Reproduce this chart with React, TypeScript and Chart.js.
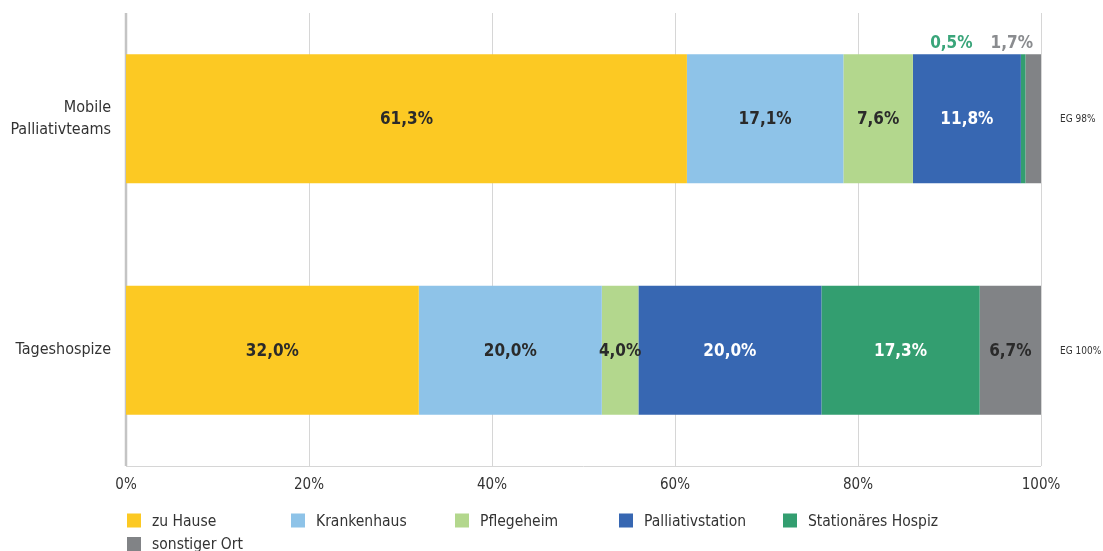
import React, { useEffect, useRef } from "react";
import { Chart, registerables } from "chart.js";
Chart.register(...registerables);

const categories: (string | string[])[] = [["Mobile", "Palliativteams"], "Tageshospize"];
const seriesNames = ["zu Hause", "Krankenhaus", "Pflegeheim", "Palliativstation", "Stationäres Hospiz", "sonstiger Ort"];
const zuHause = [61.3, 32.0];
const krankenhaus = [17.1, 20.0];
const pflegeheim = [7.6, 4.0];
const palliativstation = [11.8, 20.0];
const stationaeresHospiz = [0.5, 17.3];
const sonstigerOrt = [1.7, 6.7];
const egLabels = ["EG 98%", "EG 100%"];
const xTickValues = [0, 20, 40, 60, 80, 100];

const seriesValues = [zuHause, krankenhaus, pflegeheim, palliativstation, stationaeresHospiz, sonstigerOrt];
const colors = ["#fcc923", "#8ec3e8", "#b3d78d", "#3767b2", "#339e70", "#818386"];
const textColors = ["#2a2a2a", "#2a2a2a", "#2a2a2a", "#ffffff", "#ffffff", "#2a2a2a"];
const smallLabelColors = ["#e0aa00", "#6aaee0", "#8fbf5f", "#3767b2", "#3aa57a", "#8a8c8f"];

const FONT = "'DejaVu Sans Condensed', 'Liberation Sans Narrow', 'DejaVu Sans', sans-serif";
const fmt = (v: number) => v.toFixed(1).replace(".", ",") + "%";

const customPlugin = {
  id: "customDraw",
  beforeDatasetsDraw(chart: any) {
    const { ctx, chartArea } = chart;
    const x = chart.scales.x;
    const top = chartArea.top + 10;
    const bottom = chartArea.bottom;
    ctx.save();
    ctx.strokeStyle = "#d6d6d6";
    ctx.lineWidth = 1;
    xTickValues.forEach((v) => {
      const px = Math.round(x.getPixelForValue(v)) + 0.5;
      ctx.beginPath();
      ctx.moveTo(px, top);
      ctx.lineTo(px, bottom);
      ctx.stroke();
    });
    ctx.beginPath();
    ctx.moveTo(chartArea.left, Math.round(bottom) + 0.5);
    ctx.lineTo(chartArea.right, Math.round(bottom) + 0.5);
    ctx.stroke();
    ctx.strokeStyle = "#c4c4c4";
    ctx.lineWidth = 2.5;
    ctx.beginPath();
    ctx.moveTo(chartArea.left, top);
    ctx.lineTo(chartArea.left, bottom);
    ctx.stroke();
    ctx.restore();
  },
  afterDatasetsDraw(chart: any) {
    const { ctx, chartArea } = chart;
    const x = chart.scales.x;
    ctx.save();
    ctx.textBaseline = "middle";
    ctx.font = `bold 17px ${FONT}`;
    const small: { ds: number; bar: any }[][] = categories.map(() => []);
    chart.data.datasets.forEach((ds: any, i: number) => {
      const meta = chart.getDatasetMeta(i);
      meta.data.forEach((bar: any, j: number) => {
        const v = ds.data[j];
        if (v < 2) {
          small[j].push({ ds: i, bar });
          return;
        }
        ctx.textAlign = "center";
        ctx.fillStyle = textColors[i];
        ctx.fillText(fmt(v), (bar.x + bar.base) / 2, bar.y + 1);
      });
    });
    small.forEach((list, j) => {
      let right = x.getPixelForValue(100) - 8;
      for (let k = list.length - 1; k >= 0; k--) {
        const { ds, bar } = list[k];
        const txt = fmt(chart.data.datasets[ds].data[j]);
        ctx.textAlign = "right";
        ctx.fillStyle = smallLabelColors[ds];
        ctx.fillText(txt, right, bar.y - bar.height / 2 - 11);
        right -= ctx.measureText(txt).width + 18;
      }
    });
    ctx.font = `10px ${FONT}`;
    ctx.fillStyle = "#333333";
    ctx.textAlign = "left";
    const meta0 = chart.getDatasetMeta(0);
    meta0.data.forEach((bar: any, j: number) => {
      ctx.fillText(egLabels[j], chartArea.right + 19, bar.y + 1);
    });
    ctx.font = `15.5px ${FONT}`;
    ctx.textAlign = "left";
    seriesNames.forEach((name, i) => {
      const col = i % 5;
      const row = Math.floor(i / 5);
      const lx = chartArea.left + 1 + col * 164;
      const ly = 520.5 + row * 23.5;
      ctx.fillStyle = colors[i];
      ctx.fillRect(lx, ly - 7, 14, 14);
      ctx.fillStyle = "#333333";
      ctx.fillText(name, lx + 25, ly + 1);
    });
    ctx.restore();
  },
};

export default function App() {
  const ref = useRef<HTMLCanvasElement | null>(null);
  useEffect(() => {
    if (!ref.current) return;
    const chart = new Chart(ref.current, {
      type: "bar",
      data: {
        labels: categories as any,
        datasets: seriesValues.map((vals, i) => ({
          label: seriesNames[i],
          data: vals,
          backgroundColor: colors[i],
          borderWidth: 0,
          barPercentage: 0.558,
          categoryPercentage: 1,
        })),
      },
      options: {
        indexAxis: "y",
        animation: false,
        responsive: false,
        layout: { padding: { top: 3, right: 62, bottom: 55, left: 0 } },
        plugins: { legend: { display: false }, tooltip: { enabled: false } },
        scales: {
          x: {
            stacked: true,
            min: 0,
            max: 100,
            grid: { display: false, drawTicks: false },
            border: { display: false },
            afterFit: (s: any) => { s.height = 30; s.paddingLeft = 0; s.paddingRight = 0; },
            afterBuildTicks: (s: any) => { s.ticks = xTickValues.map((v) => ({ value: v })); },
            ticks: {
              padding: 10,
              color: "#333333",
              font: { family: FONT, size: 15 },
              callback: (v: any) => v + "%",
            },
          },
          y: {
            stacked: true,
            grid: { display: false, drawTicks: false },
            border: { display: false },
            afterFit: (s: any) => { s.width = 126; s.paddingTop = 0; s.paddingBottom = 0; },
            ticks: {
              padding: 15,
              color: "#333333",
              font: { family: FONT, size: 16, lineHeight: 1.35 },
            },
          },
        },
      },
      plugins: [customPlugin],
    });
    return () => chart.destroy();
  }, []);
  return (
    <div style={{ position: "absolute", left: 0, top: 0, width: 1103, height: 551, background: "#fff" }}>
      <canvas ref={ref} width={1103} height={551} />
    </div>
  );
}
